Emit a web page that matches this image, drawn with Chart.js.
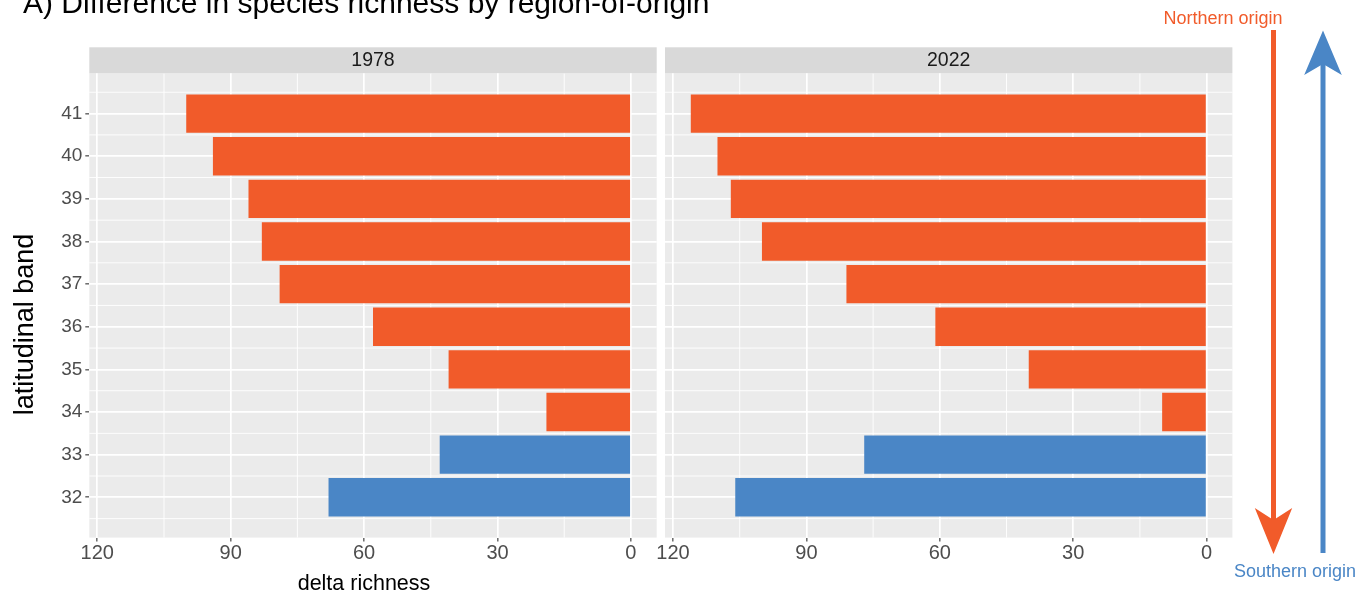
<!DOCTYPE html>
<html>
<head>
<meta charset="utf-8">
<title>Difference in species richness by region-of-origin</title>
<script src="https://cdn.jsdelivr.net/npm/chart.js@4/dist/chart.umd.min.js"></script>
<style>
  html, body { margin: 0; padding: 0; background: #ffffff; }
  #wrap { position: relative; width: 1372px; height: 596px; overflow: hidden; }
  #wrap canvas { position: absolute; left: 0; top: 0; }
</style>
</head>
<body>
<div id="wrap">
  <canvas id="panel1978" width="1372" height="596"></canvas>
  <canvas id="panel2022" width="1372" height="596"></canvas>
</div>
<script>
// Latitudinal bands (tick labels of the vertical axis)
const bands = [32, 33, 34, 35, 36, 37, 38, 39, 40, 41];
// Bands whose surplus comes from northern / southern species
const northBands = [34, 35, 36, 37, 38, 39, 40, 41];
const southBands = [32, 33];
// Delta richness per band, 1978
const north1978 = [19, 41, 58, 79, 83, 86, 94, 100];
const south1978 = [68, 43];
// Delta richness per band, 2022
const north2022 = [10, 40, 61, 81, 100, 107, 110, 116];
const south2022 = [106, 77];
// Tick labels of the horizontal axis
const xTicks = [0, 30, 60, 90, 120];
const panelYears = ['1978', '2022'];

const ORANGE = '#F15B2A';
const BLUE = '#4A86C6';
const FONT = "'Liberation Sans', Arial, Helvetica, sans-serif";

Chart.defaults.font.family = FONT;

// Shared scale limits with a 5% expansion on each side (ggplot-style)
const allValues = north1978.concat(south1978, north2022, south2022);
const xDataMax = Math.max(...allValues);
const xMin = 0 - 0.05 * xDataMax;
const xMax = xDataMax + 0.05 * xDataMax;
const yLo = Math.min(...bands) - 0.45, yHi = Math.max(...bands) + 0.45;
const yMin = yLo - 0.05 * (yHi - yLo);
const yMax = yHi + 0.05 * (yHi - yLo);

// Page layout of the two facets
const W = 1372, H = 596;
const PANEL_TOP = 73.3, PANEL_BOTTOM = 537.6, STRIP_H = 26;
const facets = [
  { left: 89.3, right: 656.7 },
  { left: 665, right: 1232.4 }
];

function minorBreaks(breaks, lo, hi) {
  const step = breaks[1] - breaks[0];
  const out = [breaks[0] - step / 2];
  breaks.forEach(b => out.push(b + step / 2));
  return out.filter(v => v > lo && v < hi);
}

// Grey panel background, minor grid and facet strip
const panelPlugin = {
  id: 'panel',
  beforeDraw(chart, args, opts) {
    const { ctx, chartArea: a } = chart;
    const x = chart.scales.x, y = chart.scales.y;
    ctx.save();
    ctx.fillStyle = '#EBEBEB';
    ctx.fillRect(a.left, a.top, a.right - a.left, a.bottom - a.top);
    ctx.strokeStyle = '#FFFFFF';
    ctx.lineWidth = 0.9;
    ctx.beginPath();
    minorBreaks(xTicks, x.min, x.max).forEach(v => {
      const px = x.getPixelForValue(v);
      ctx.moveTo(px, a.top); ctx.lineTo(px, a.bottom);
    });
    minorBreaks(bands, y.min, y.max).forEach(v => {
      const py = y.getPixelForValue(v);
      ctx.moveTo(a.left, py); ctx.lineTo(a.right, py);
    });
    ctx.stroke();
    ctx.fillStyle = '#D9D9D9';
    ctx.fillRect(a.left, a.top - STRIP_H, a.right - a.left, STRIP_H);
    ctx.fillStyle = '#1A1A1A';
    ctx.font = '19.5px ' + FONT;
    ctx.textAlign = 'center';
    ctx.textBaseline = 'middle';
    ctx.fillText(opts.title, (a.left + a.right) / 2, a.top - STRIP_H / 2);
    ctx.restore();
  }
};

// Figure title and axis titles
const titlesPlugin = {
  id: 'titles',
  afterDraw(chart) {
    const ctx = chart.ctx;
    ctx.save();
    ctx.fillStyle = '#000000';
    ctx.textBaseline = 'alphabetic';
    ctx.font = '30px ' + FONT;
    ctx.textAlign = 'left';
    ctx.fillText('A) Difference in species richness by region-of-origin', 23, 13);
    ctx.font = '21.5px ' + FONT;
    ctx.textAlign = 'center';
    ctx.fillText('delta richness', 364, 590);
    ctx.translate(33, 324.5);
    ctx.rotate(-Math.PI / 2);
    ctx.font = '27px ' + FONT;
    ctx.fillText('latitudinal band', 0, 0);
    ctx.restore();
  }
};

// Direction arrows with their origin labels
function arrow(ctx, cx, from, tip, back, notch, halfW, color) {
  ctx.strokeStyle = color;
  ctx.lineWidth = 5;
  ctx.beginPath();
  ctx.moveTo(cx, from);
  ctx.lineTo(cx, notch);
  ctx.stroke();
  ctx.fillStyle = color;
  ctx.beginPath();
  ctx.moveTo(cx, tip);
  ctx.lineTo(cx - halfW, back);
  ctx.lineTo(cx, notch);
  ctx.lineTo(cx + halfW, back);
  ctx.closePath();
  ctx.fill();
}
const arrowsPlugin = {
  id: 'arrows',
  afterDraw(chart) {
    const ctx = chart.ctx;
    ctx.save();
    arrow(ctx, 1273.5, 30, 554, 508, 520, 18.7, ORANGE);
    arrow(ctx, 1323, 553, 30.5, 75, 64, 18.8, BLUE);
    ctx.font = '18px ' + FONT;
    ctx.textAlign = 'center';
    ctx.textBaseline = 'alphabetic';
    ctx.fillStyle = ORANGE;
    ctx.fillText('Northern origin', 1223, 23.5);
    ctx.fillStyle = BLUE;
    ctx.fillText('Southern origin', 1295, 577);
    ctx.restore();
  }
};

function makePanel(canvasId, idx, north, south, extraPlugins) {
  const f = facets[idx];
  const showY = idx === 0;
  const barOpts = { grouped: false, barPercentage: 0.9, categoryPercentage: 1, borderWidth: 0 };
  return new Chart(document.getElementById(canvasId), {
    type: 'bar',
    data: {
      datasets: [
        Object.assign({
          label: 'Northern origin',
          data: northBands.map((b, i) => ({ x: north[i], y: b })),
          backgroundColor: ORANGE
        }, barOpts),
        Object.assign({
          label: 'Southern origin',
          data: southBands.map((b, i) => ({ x: south[i], y: b })),
          backgroundColor: BLUE
        }, barOpts)
      ]
    },
    options: {
      indexAxis: 'y',
      responsive: false,
      animation: false,
      devicePixelRatio: 1,
      events: [],
      layout: { padding: { top: PANEL_TOP, right: W - f.right, left: 0, bottom: 0 } },
      plugins: {
        legend: { display: false },
        tooltip: { enabled: false },
        panel: { title: panelYears[idx] }
      },
      scales: {
        x: {
          type: 'linear',
          reverse: true,
          bounds: 'data',
          offset: false,
          min: xMin,
          max: xMax,
          afterBuildTicks: s => { s.ticks = xTicks.map(v => ({ value: v })); },
          afterFit: s => { s.height = H - PANEL_BOTTOM; },
          grid: { offset: false, color: '#FFFFFF', lineWidth: 1.7, drawTicks: true, tickLength: 4, tickColor: '#333333', tickWidth: 1.1 },
          border: { display: false },
          ticks: { color: '#4D4D4D', font: { size: 20 }, padding: 0, maxRotation: 0, autoSkip: false, callback: v => String(v) }
        },
        y: {
          type: 'linear',
          bounds: 'data',
          offset: false,
          min: yMin,
          max: yMax,
          afterBuildTicks: s => { s.ticks = bands.map(v => ({ value: v })); },
          afterFit: s => { s.width = f.left; },
          grid: { offset: false, color: '#FFFFFF', lineWidth: 1.7, drawTicks: showY, tickLength: showY ? 4 : 0, tickColor: '#333333', tickWidth: 1.1 },
          border: { display: false },
          ticks: { display: showY, color: '#4D4D4D', font: { size: 19 }, padding: 3, autoSkip: false, callback: v => String(v) }
        }
      }
    },
    plugins: [panelPlugin].concat(extraPlugins)
  });
}

makePanel('panel1978', 0, north1978, south1978, [titlesPlugin]);
makePanel('panel2022', 1, north2022, south2022, [arrowsPlugin]);
</script>
</body>
</html>
